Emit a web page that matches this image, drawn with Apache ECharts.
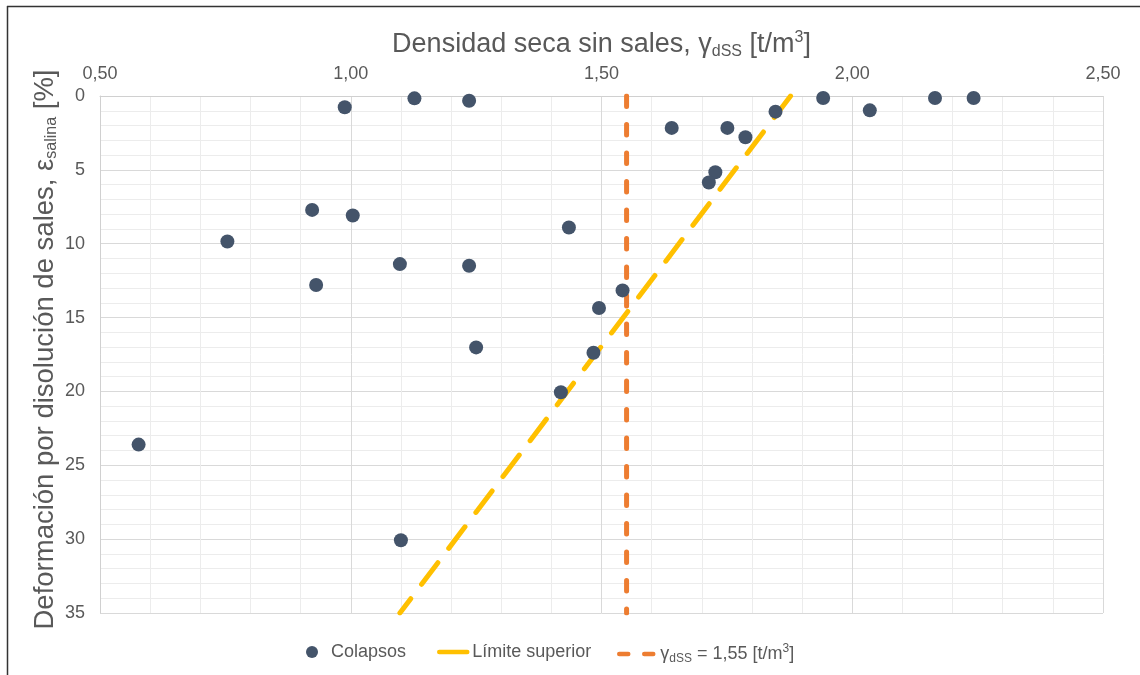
<!DOCTYPE html>
<html>
<head>
<meta charset="utf-8">
<script src="https://cdn.jsdelivr.net/npm/echarts@6/dist/echarts.min.js"></script>
<style>
  html, body { margin: 0; padding: 0; background: #ffffff; }
  #chart { width: 1140px; height: 675px; }
</style>
</head>
<body>
<div id="chart"></div>
<script>
// Collapse tests: dry density without salts (t/m3) and strain from salt dissolution (%)
const densidad = [0.988, 1.127, 1.236, 1.640, 1.751, 1.787, 1.847, 1.942, 2.035, 2.165, 2.242,
                  1.727, 1.714, 0.923, 1.004, 0.754, 1.435, 1.098, 1.236, 0.931, 1.542, 1.495,
                  1.250, 1.484, 1.419, 0.577, 1.100];
const deformacion = [0.76, 0.16, 0.32, 2.16, 2.16, 2.79, 1.06, 0.14, 0.97, 0.14, 0.14,
                     5.16, 5.86, 7.71, 8.09, 9.85, 8.90, 11.38, 11.49, 12.80, 13.16, 14.35,
                     17.02, 17.38, 20.06, 23.60, 30.07];

// Upper limit line (two end points)
const limiteDensidad = [1.877, 1.098];
const limiteDeformacion = [0, 35];

// Threshold density line
const densidadCorte = 1.55;
const corteDeformacion = [0, 35];

// Axis tick labels
const xTickLabels = ['0,50', '1,00', '1,50', '2,00', '2,50'];
const yTickLabels = ['0', '5', '10', '15', '20', '25', '30', '35'];

const FONT = 'Liberation Sans, Arial, sans-serif';
const TEXT = '#595959';

const chart = echarts.init(document.getElementById('chart'), null, { renderer: 'canvas' });

const legendText = {
  color: TEXT, fontSize: 18, fontFamily: FONT,
  rich: {
    m: { fontSize: 18, lineHeight: 22, fontFamily: FONT, color: TEXT },
    s: { fontSize: 12, lineHeight: 12, fontFamily: FONT, color: TEXT, verticalAlign: 'bottom' },
    p: { fontSize: 12, lineHeight: 12, fontFamily: FONT, color: TEXT, verticalAlign: 'top' }
  }
};
// hides the marker dot that line legends draw in the middle of the icon
const noMarker = { color: 'rgba(0,0,0,0)', borderWidth: 0, opacity: 0 };

const option = {
  backgroundColor: '#ffffff',
  animation: false,
  grid: { left: 100, top: 96, width: 1003, height: 517, containLabel: false },
  graphic: [
    { type: 'line', shape: { x1: 7, y1: 6.5, x2: 1140, y2: 6.5 }, style: { stroke: '#333333', lineWidth: 1.5 }, silent: true },
    { type: 'line', shape: { x1: 7.5, y1: 6, x2: 7.5, y2: 675 }, style: { stroke: '#333333', lineWidth: 1.5 }, silent: true }
  ],
  xAxis: {
    type: 'value',
    position: 'top',
    min: 0.5, max: 2.5, interval: 0.5,
    name: '{m|Densidad seca sin sales, γ}{s|dSS}{m| [t/m}{p|3}{m|]}',
    nameLocation: 'middle',
    nameGap: 36,
    nameMoveOverlap: false,
    nameTextStyle: {
      color: TEXT, fontFamily: FONT, fontSize: 27,
      rich: {
        m: { fontSize: 27, lineHeight: 30, fontFamily: FONT, color: TEXT },
        s: { fontSize: 16, lineHeight: 16, fontFamily: FONT, color: TEXT, verticalAlign: 'bottom' },
        p: { fontSize: 16, lineHeight: 16, fontFamily: FONT, color: TEXT, verticalAlign: 'top' }
      }
    },
    axisLine: { show: true, lineStyle: { color: '#d0d0d0', width: 1 } },
    axisTick: { show: false },
    axisLabel: {
      color: TEXT, fontSize: 18, fontFamily: FONT, margin: 13,
      formatter: v => xTickLabels[Math.round((v - 0.5) / 0.5)]
    },
    splitLine: { show: true, lineStyle: { color: '#d9d9d9', width: 1 } },
    minorTick: { show: false, splitNumber: 5 },
    minorSplitLine: { show: true, lineStyle: { color: '#ececec', width: 1 } }
  },
  yAxis: {
    type: 'value',
    inverse: true,
    min: 0, max: 35, interval: 5,
    name: '{m|Deformación por disolución de sales, ε}{s|salina}{m| [%]}',
    nameLocation: 'middle',
    nameRotate: 90,
    nameGap: 40,
    nameMoveOverlap: false,
    nameTextStyle: {
      color: TEXT, fontFamily: FONT, fontSize: 27.5,
      padding: [0, 0, 0, 10],
      rich: {
        m: { fontSize: 27.5, lineHeight: 30, fontFamily: FONT, color: TEXT },
        s: { fontSize: 16, lineHeight: 16, fontFamily: FONT, color: TEXT, verticalAlign: 'bottom' }
      }
    },
    axisLine: { show: true, lineStyle: { color: '#d0d0d0', width: 1 } },
    axisTick: { show: false },
    axisLabel: {
      color: TEXT, fontSize: 18, fontFamily: FONT, margin: 15,
      formatter: v => yTickLabels[Math.round(v / 5)]
    },
    splitLine: { show: true, lineStyle: { color: '#d9d9d9', width: 1 } },
    minorTick: { show: false, splitNumber: 5 },
    minorSplitLine: { show: true, lineStyle: { color: '#ececec', width: 1 } }
  },
  legend: [
    {
      data: ['Colapsos'],
      left: 306, top: 643, padding: 0,
      itemWidth: 28, itemHeight: 12,
      textStyle: legendText
    },
    {
      data: [{ name: 'Límite superior', lineStyle: { type: 'solid', width: 4.5, cap: 'round' }, itemStyle: noMarker }],
      left: 437, top: 643, padding: 0,
      itemWidth: 28, itemHeight: 12,
      textStyle: legendText
    },
    {
      data: [{ name: 'γdSS = 1,55 [t/m3]', lineStyle: { type: [9, 16], width: 4.5, cap: 'round' }, itemStyle: noMarker }],
      left: 617, top: 643, padding: 0,
      itemWidth: 36, itemHeight: 12,
      textStyle: legendText,
      formatter: () => '{m|γ}{s|dSS}{m| = 1,55 [t/m}{p|3}{m|]}'
    }
  ],
  series: [
    {
      name: 'γdSS = 1,55 [t/m3]',
      type: 'line',
      symbol: 'none',
      z: 2,
      data: corteDeformacion.map(y => [densidadCorte, y]),
      lineStyle: { color: '#ED7D31', width: 5, type: [10.5, 18], cap: 'round' },
      itemStyle: { color: '#ED7D31' }
    },
    {
      name: 'Límite superior',
      type: 'line',
      symbol: 'none',
      z: 3,
      data: limiteDensidad.map((x, i) => [x, limiteDeformacion[i]]),
      lineStyle: { color: '#FFC000', width: 5, type: [27, 18], cap: 'round' },
      itemStyle: { color: '#FFC000' }
    },
    {
      name: 'Colapsos',
      type: 'scatter',
      z: 4,
      symbol: 'circle',
      symbolSize: 14,
      data: densidad.map((x, i) => [x, deformacion[i]]),
      itemStyle: { color: '#44546A', opacity: 1 }
    }
  ]
};

chart.setOption(option);
</script>
</body>
</html>
